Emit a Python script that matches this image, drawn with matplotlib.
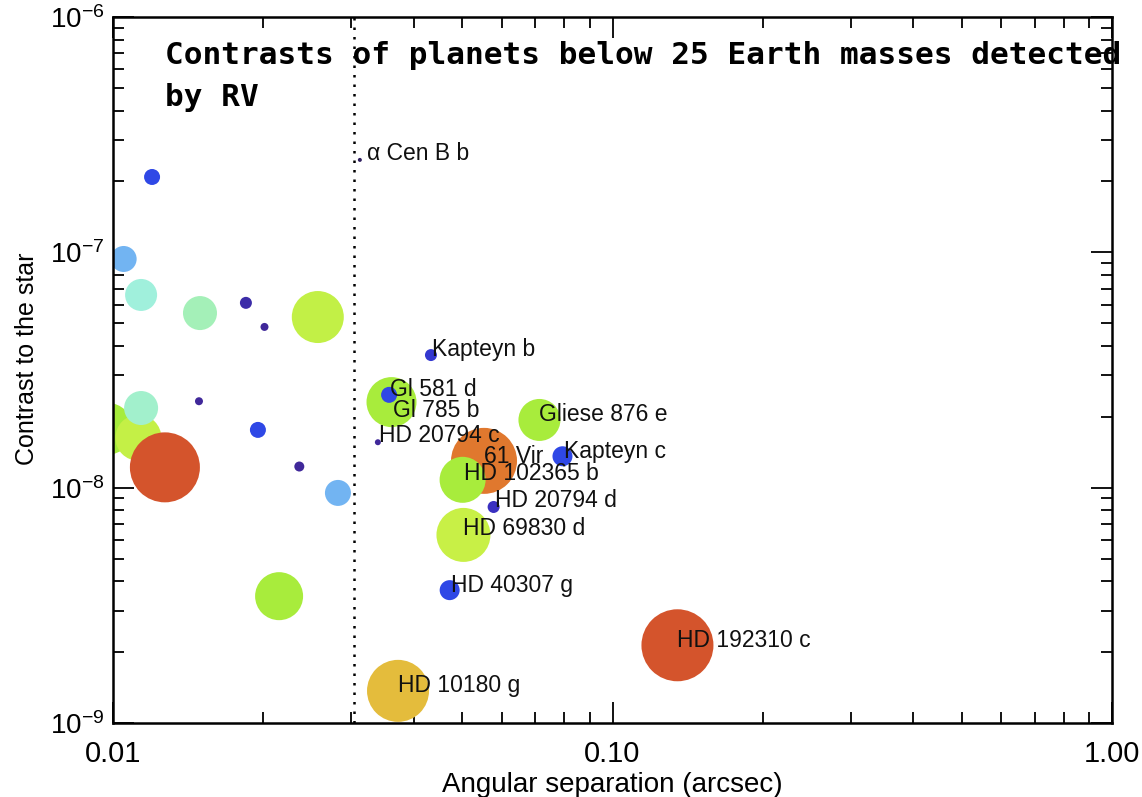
import numpy as np
import matplotlib
matplotlib.use('Agg')
import matplotlib.pyplot as plt
from matplotlib import font_manager

# data
names = ['', '', '', '', '', '', '', '', '', '', '', '', '', '', '', '',
         'α Cen B b', 'Kapteyn b', 'Gl 785 b', 'Gl 581 d', 'HD 20794 c',
         '61 Vir', 'Gliese 876 e', 'Kapteyn c', 'HD 102365 b', 'HD 20794 d',
         'HD 69830 d', 'HD 40307 g', 'HD 192310 c', 'HD 10180 g']
sep = [0.00973, 0.01124, 0.01138, 0.0127, 0.01197, 0.0105, 0.01138, 0.01493,
       0.01845, 0.0201, 0.0257, 0.01486, 0.0195, 0.0236, 0.0282, 0.0215,
       0.0312, 0.0433, 0.0361, 0.0357, 0.0339,
       0.0553, 0.0714, 0.0794, 0.0501, 0.0578,
       0.0503, 0.0472, 0.1349, 0.0372]
contrast = [1.78e-8, 1.63e-8, 2.18e-8, 1.22e-8, 2.09e-7, 9.37e-8, 6.59e-8, 5.52e-8,
            6.1e-8, 4.82e-8, 5.31e-8, 2.33e-8, 1.76e-8, 1.23e-8, 9.5e-9, 3.46e-9,
            2.47e-7, 3.66e-8, 2.31e-8, 2.48e-8, 1.56e-8,
            1.3e-8, 1.94e-8, 1.36e-8, 1.08e-8, 8.28e-9,
            6.3e-9, 3.67e-9, 2.14e-9, 1.37e-9]
radius = [26, 23, 17, 35, 8, 13, 16, 17,
          6, 4, 26, 4, 8, 5, 13, 24,
          2, 6, 25, 8, 3,
          33, 21, 10, 23, 6,
          27, 10, 36, 31]
colors = ['#a6ec3c', '#c4f046', '#a2f0cc', '#d4542c', '#2f48e6', '#72b4f2', '#a0f0dc', '#a4f0b8',
          '#3c2ca8', '#40289a', '#c2f046', '#40289a', '#2f48e6', '#40289a', '#72b4f2', '#a8ec3c',
          '#302060', '#3438d0', '#a8ec3c', '#2f48e6', '#40289a',
          '#e0782e', '#a8ec3c', '#2f48e6', '#a8ec3c', '#3a30c0',
          '#c8f046', '#2f48e6', '#d4542c', '#e4bc3c']
# label offsets (points) relative to the marker
lab_dx = [0]*16 + [5, 1, 1, 1, 1, 0, 0, 1, 1, 1, 0, 1, 0, 0]
lab_dy = [0]*16 + [0, -1, -11, -1, 0, -1.5, -1, -1, 0, 0, 0, -1, -1, -1]

def has_font(name):
    try:
        font_manager.findfont(name, fallback_to_default=False)
        return True
    except Exception:
        return False

sans = 'Liberation Sans' if has_font('Liberation Sans') else 'DejaVu Sans'
plt.rcParams['font.family'] = [sans, 'DejaVu Sans']
plt.rcParams['mathtext.fontset'] = 'custom'
plt.rcParams['mathtext.rm'] = sans
plt.rcParams['mathtext.it'] = sans
plt.rcParams['mathtext.default'] = 'regular'

fig = plt.figure(figsize=(11.42, 7.97), dpi=100)
ax = fig.add_axes([0.099, 0.0928, 0.8747, 0.8859])

s = (2*np.array(radius)*0.72)**2
ax.scatter(sep, contrast, s=s, c=colors, linewidths=0, zorder=2)

ax.set_xscale('log')
ax.set_yscale('log')
ax.set_xlim(0.01, 1.0)
ax.set_ylim(1e-9, 1e-6)

#vertical dotted limit
ax.axvline(0.0303, color='k', lw=1.8, linestyle=(0, (1, 2.8)), zorder=1)

for x, y, n, dx, dy in zip(sep, contrast, names, lab_dx, lab_dy):
    if n:
        ax.annotate(n, (x, y), xytext=(dx, dy), textcoords='offset points',
                    fontsize=16.5, ha='left', va='baseline', color='#111111', zorder=3)

ax.set_xticks([0.01, 0.1, 1.0])
ax.set_xticklabels(['0.01', '0.10', '1.00'])
ax.set_yticks([1e-9, 1e-8, 1e-7, 1e-6])
ax.set_yticklabels(['$10^{-9}$', '$10^{-8}$', '$10^{-7}$', '$10^{-6}$'])
ax.tick_params(which='major', direction='in', length=15, width=1.3,
               top=True, right=True, labelsize=20)
ax.tick_params(which='minor', direction='in', length=8, width=1.3,
               top=True, right=True)
ax.tick_params(axis='x', pad=12, labelsize=21)
ax.tick_params(axis='y', pad=6)
for sp in ax.spines.values():
    sp.set_linewidth(1.8)

ax.set_xlabel('Angular separation (arcsec)', fontsize=20, labelpad=3)
ax.set_ylabel('Contrast to the star', fontsize=18)
ax.yaxis.set_label_coords(-0.074, 0.516)

fig.text(0.1445, 0.949, 'Contrasts of planets below 25 Earth masses detected\nby RV',
         fontsize=22.4, family='DejaVu Sans Mono', fontweight='bold', ha='left', va='top',
         linespacing=1.6, zorder=5)

fig.savefig('out.png', dpi=100)
